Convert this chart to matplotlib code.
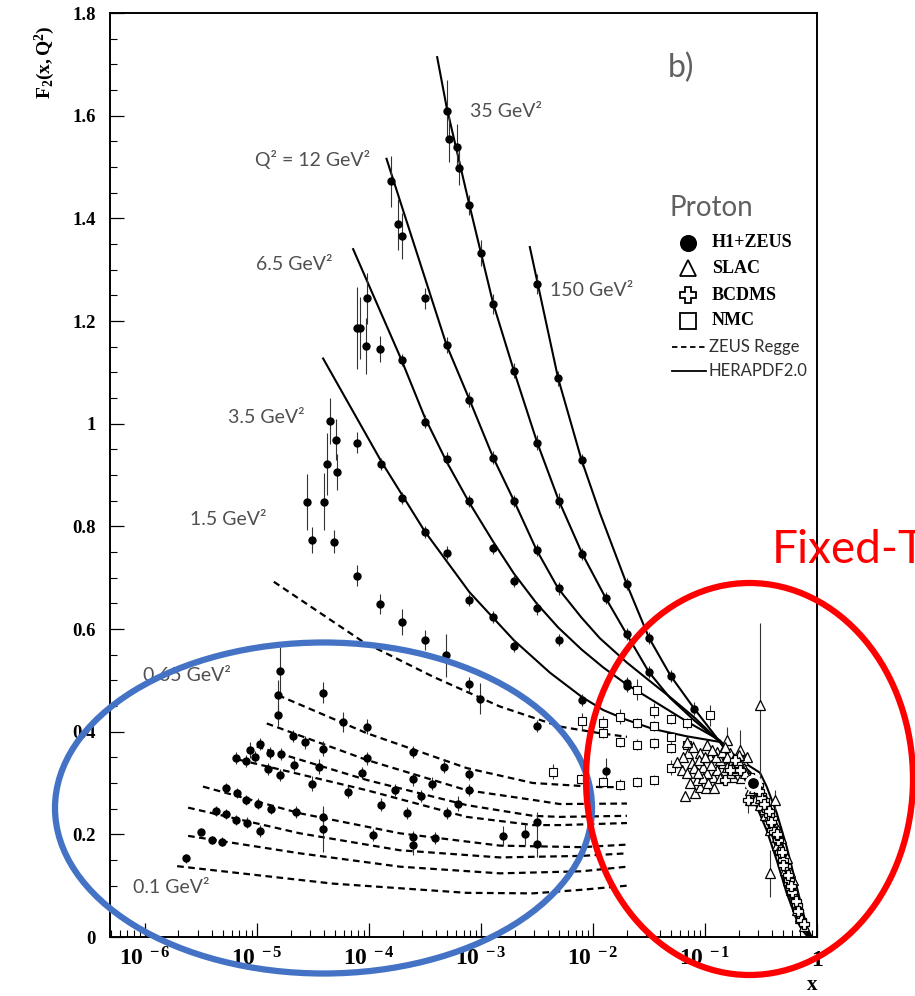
import numpy as np
import matplotlib
matplotlib.use("Agg")
import matplotlib.pyplot as plt
from matplotlib.patches import Ellipse
from matplotlib.ticker import FixedLocator, FuncFormatter, MultipleLocator

plt.rcParams['mathtext.fontset'] = 'custom'
plt.rcParams['mathtext.rm'] = 'Liberation Serif'
plt.rcParams['mathtext.bf'] = 'Liberation Serif:bold'
plt.rcParams['mathtext.it'] = 'Liberation Serif:italic'

# ---- data: columns are log10(x), F2, error ----
h1zeus = np.array([
    [-3.306, 1.609, 0.060], [-3.283, 1.555, 0.045], [-3.217, 1.538, 0.045], [-3.194, 1.499, 0.035],
    [-3.104, 1.426, 0.020], [-3.000, 1.333, 0.025], [-2.890, 1.233, 0.020], [-2.705, 1.103, 0.015],
    [-2.497, 0.963, 0.015], [-2.304, 0.850, 0.015], [-3.804, 1.472, 0.050], [-3.744, 1.388, 0.050],
    [-3.708, 1.366, 0.045], [-3.500, 1.244, 0.020], [-3.306, 1.153, 0.015], [-3.104, 1.047, 0.015],
    [-2.890, 0.934, 0.012], [-2.705, 0.850, 0.012], [-2.503, 1.272, 0.020], [-2.310, 1.088, 0.015],
    [-2.101, 0.929, 0.012], [-4.015, 1.244, 0.050], [-4.104, 1.187, 0.080], [-4.080, 1.186, 0.060],
    [-4.029, 1.151, 0.055], [-3.896, 1.146, 0.025], [-3.708, 1.124, 0.012], [-3.500, 1.004, 0.012],
    [-4.348, 1.005, 0.045], [-4.297, 0.969, 0.040], [-4.104, 0.963, 0.020], [-3.306, 0.932, 0.012],
    [-3.887, 0.921, 0.012], [-4.372, 0.921, 0.060], [-4.280, 0.906, 0.035], [-3.708, 0.855, 0.012],
    [-3.104, 0.849, 0.012], [-4.551, 0.847, 0.055], [-4.402, 0.848, 0.055], [-3.500, 0.789, 0.012],
    [-4.506, 0.773, 0.025], [-4.313, 0.770, 0.022], [-2.890, 0.758, 0.012], [-2.497, 0.754, 0.012],
    [-3.306, 0.749, 0.012], [-2.096, 0.746, 0.012], [-4.104, 0.704, 0.020], [-2.705, 0.694, 0.012],
    [-2.304, 0.679, 0.012], [-3.104, 0.657, 0.012], [-2.497, 0.640, 0.012], [-3.896, 0.649, 0.020],
    [-2.890, 0.623, 0.012], [-3.708, 0.614, 0.025], [-2.304, 0.579, 0.012], [-3.500, 0.579, 0.020],
    [-2.705, 0.567, 0.012], [-3.313, 0.549, 0.042], [-4.795, 0.519, 0.045], [-4.810, 0.471, 0.030],
    [-4.810, 0.432, 0.020], [-4.413, 0.476, 0.020], [-4.229, 0.419, 0.020], [-4.012, 0.410, 0.015],
    [-3.604, 0.361, 0.012], [-3.328, 0.332, 0.012], [-3.104, 0.318, 0.012], [-3.104, 0.492, 0.015],
    [-3.009, 0.464, 0.030], [-2.503, 0.411, 0.012], [-2.101, 0.462, 0.012],
    [-4.681, 0.392, 0.012], [-4.569, 0.379, 0.012], [-4.413, 0.367, 0.015], [-4.012, 0.348, 0.012],
    [-4.967, 0.376, 0.012], [-5.063, 0.364, 0.015], [-5.188, 0.349, 0.012], [-5.092, 0.343, 0.012],
    [-5.012, 0.351, 0.012], [-4.884, 0.358, 0.012], [-4.780, 0.356, 0.012], [-4.904, 0.327, 0.012],
    [-4.795, 0.316, 0.012], [-4.667, 0.336, 0.012], [-4.444, 0.332, 0.015], [-4.506, 0.299, 0.015],
    [-4.190, 0.283, 0.012], [-4.063, 0.320, 0.012], [-3.768, 0.286, 0.012], [-3.604, 0.307, 0.012],
    [-3.440, 0.299, 0.012], [-3.536, 0.275, 0.012], [-3.104, 0.286, 0.012], [-3.208, 0.260, 0.015],
    [-3.893, 0.258, 0.012], [-3.663, 0.241, 0.012], [-3.306, 0.241, 0.012], [-5.271, 0.290, 0.010],
    [-5.176, 0.280, 0.010], [-5.092, 0.267, 0.010], [-4.985, 0.260, 0.010], [-4.869, 0.249, 0.010],
    [-4.646, 0.243, 0.012], [-4.413, 0.234, 0.015], [-5.366, 0.245, 0.010], [-5.271, 0.239, 0.010],
    [-5.188, 0.228, 0.010], [-5.083, 0.223, 0.010], [-4.967, 0.207, 0.012], [-4.413, 0.210, 0.045],
    [-3.967, 0.199, 0.012], [-3.604, 0.194, 0.012], [-3.604, 0.179, 0.020], [-3.411, 0.193, 0.012],
    [-2.806, 0.197, 0.020], [-2.607, 0.200, 0.020], [-2.503, 0.224, 0.020], [-2.503, 0.181, 0.025],
    [-5.494, 0.205, 0.008], [-5.396, 0.189, 0.008], [-5.310, 0.186, 0.008], [-5.628, 0.153, 0.008],
    [-1.699, 0.688, 0.012], [-1.887, 0.660, 0.012], [-1.699, 0.590, 0.012], [-1.500, 0.583, 0.012],
    [-1.500, 0.516, 0.012], [-1.304, 0.508, 0.012], [-1.699, 0.494, 0.012], [-1.699, 0.489, 0.012],
    [-1.096, 0.445, 0.012], [-1.887, 0.323, 0.025],
])

nmc = np.array([
    [-2.101, 0.421, 0.015], [-2.354, 0.322, 0.015], [-2.110, 0.308, 0.010], [-1.604, 0.482, 0.020],
    [-0.955, 0.432, 0.020], [-1.908, 0.416, 0.015], [-1.759, 0.429, 0.015], [-1.604, 0.417, 0.010],
    [-1.453, 0.441, 0.015], [-1.453, 0.411, 0.010], [-1.304, 0.424, 0.010], [-1.163, 0.416, 0.010],
    [-1.908, 0.398, 0.010], [-1.759, 0.380, 0.010], [-1.604, 0.375, 0.010], [-1.453, 0.377, 0.010],
    [-1.304, 0.390, 0.010], [-1.304, 0.369, 0.010], [-1.163, 0.374, 0.010], [-1.304, 0.330, 0.015],
    [-1.908, 0.302, 0.010], [-1.759, 0.297, 0.010], [-1.604, 0.302, 0.010], [-1.453, 0.306, 0.010],
])

slac = np.array([
    [-1.179, 0.275, 0.010], [-1.089, 0.281, 0.010], [-1.045, 0.293, 0.010], [-0.994, 0.291, 0.010],
    [-1.208, 0.325, 0.010], [-1.163, 0.319, 0.010], [-1.119, 0.338, 0.010], [-1.074, 0.306, 0.010],
    [-1.015, 0.332, 0.010], [-0.955, 0.351, 0.010], [-0.926, 0.312, 0.010], [-0.896, 0.325, 0.010],
    [-0.837, 0.338, 0.010], [-0.806, 0.384, 0.025], [-0.777, 0.358, 0.010], [-0.747, 0.312, 0.010],
    [-0.688, 0.364, 0.040], [-0.658, 0.345, 0.010], [-1.149, 0.358, 0.010], [-1.104, 0.371, 0.010],
    [-1.163, 0.380, 0.010], [-1.045, 0.358, 0.010], [-0.985, 0.374, 0.010], [-0.896, 0.361, 0.010],
    [-0.866, 0.345, 0.010], [-0.985, 0.319, 0.010], [-0.806, 0.332, 0.010], [-0.717, 0.338, 0.010],
    [-0.628, 0.351, 0.010], [-0.598, 0.267, 0.010], [-0.375, 0.267, 0.020], [-0.509, 0.452, 0.160],
    [-0.420, 0.124, 0.046], [-0.600, 0.286, 0.010], [-0.550, 0.267, 0.010], [-0.505, 0.257, 0.010],
    [-0.460, 0.238, 0.010], [-0.420, 0.208, 0.010], [-0.390, 0.224, 0.010], [-0.355, 0.179, 0.010],
    [-0.330, 0.169, 0.010], [-0.300, 0.146, 0.010], [-0.285, 0.131, 0.010], [-0.255, 0.111, 0.010],
    [-0.230, 0.092, 0.010], [-0.200, 0.072, 0.010], [-0.175, 0.053, 0.010], [-0.150, 0.037, 0.010],
    [-0.120, 0.021, 0.010], [-0.515, 0.286, 0.010], [-0.445, 0.257, 0.010], [-0.375, 0.218, 0.010],
    [-0.320, 0.193, 0.010], [-0.265, 0.154, 0.010], [-0.215, 0.111, 0.010], [-0.530, 0.302, 0.010],
    [-0.480, 0.277, 0.010], [-0.345, 0.208, 0.010], [-0.240, 0.127, 0.010], [-0.195, 0.082, 0.010],
    [-1.100, 0.330, 0.010], [-1.050, 0.345, 0.010], [-1.000, 0.350, 0.010], [-0.950, 0.335, 0.010],
    [-0.900, 0.350, 0.010], [-0.850, 0.360, 0.010], [-0.800, 0.350, 0.010], [-0.750, 0.345, 0.010],
    [-0.700, 0.355, 0.010], [-0.650, 0.330, 0.010], [-1.130, 0.300, 0.010], [-1.020, 0.310, 0.010],
    [-0.970, 0.300, 0.010], [-0.920, 0.290, 0.010], [-0.870, 0.310, 0.010], [-0.780, 0.320, 0.010],
    [-0.720, 0.325, 0.010], [-0.680, 0.310, 0.010], [-1.200, 0.350, 0.010], [-1.250, 0.340, 0.010],
    [-0.600, 0.300, 0.010], [-0.560, 0.290, 0.010], [-0.510, 0.270, 0.010], [-0.470, 0.250, 0.010],
    [-0.430, 0.235, 0.010], [-0.400, 0.220, 0.010], [-0.360, 0.195, 0.010], [-0.330, 0.175, 0.010],
    [-0.295, 0.150, 0.010], [-0.265, 0.125, 0.010], [-0.240, 0.105, 0.010], [-0.210, 0.085, 0.010],
    [-0.180, 0.060, 0.010], [-0.150, 0.040, 0.010], [-1.060, 0.320, 0.010], [-0.940, 0.365, 0.010],
    [-0.820, 0.370, 0.010], [-0.760, 0.330, 0.010], [-0.700, 0.340, 0.012], [-0.640, 0.320, 0.010],
])

bcdms = np.array([
    [-0.580, 0.310, 0.008], [-0.560, 0.296, 0.008], [-0.500, 0.277, 0.008], [-0.470, 0.267, 0.008],
    [-0.450, 0.247, 0.008], [-0.400, 0.232, 0.008], [-0.400, 0.208, 0.008], [-0.350, 0.189, 0.008],
    [-0.330, 0.166, 0.008], [-0.280, 0.138, 0.008], [-0.260, 0.115, 0.008], [-0.220, 0.088, 0.008],
    [-0.180, 0.062, 0.008], [-0.140, 0.033, 0.008], [-0.616, 0.267, 0.025], [-0.777, 0.325, 0.008],
    [-0.732, 0.345, 0.008], [-0.821, 0.306, 0.008], [-0.688, 0.325, 0.008], [-0.530, 0.296, 0.008],
    [-0.500, 0.271, 0.008], [-0.430, 0.238, 0.008], [-0.360, 0.199, 0.008], [-0.300, 0.150, 0.008],
    [-0.250, 0.111, 0.008], [-0.580, 0.300, 0.008], [-0.520, 0.285, 0.008], [-0.470, 0.260, 0.008],
    [-0.430, 0.245, 0.008], [-0.410, 0.225, 0.008], [-0.380, 0.205, 0.008], [-0.360, 0.200, 0.008],
    [-0.310, 0.165, 0.008], [-0.300, 0.140, 0.008], [-0.260, 0.120, 0.008], [-0.230, 0.100, 0.008],
    [-0.190, 0.070, 0.008], [-0.170, 0.050, 0.008], [-0.120, 0.025, 0.008],
])

# HERAPDF2.0 curves, (log10 x, F2)
herapdf = {
    '150': [[-2.563, 1.344], [-2.310, 1.088], [-2.101, 0.929], [-1.938, 0.826], [-1.699, 0.688],
            [-1.500, 0.583], [-1.304, 0.508], [-1.096, 0.445], [-0.866, 0.380], [-0.732, 0.335],
            [-0.598, 0.293], [-0.538, 0.254], [-0.449, 0.208], [-0.360, 0.150], [-0.271, 0.086],
            [-0.181, 0.033], [-0.134, 0.014], [-0.080, 0.0]],
    '35': [[-3.390, 1.714], [-3.306, 1.617], [-3.098, 1.422], [-2.890, 1.234], [-2.705, 1.103],
           [-2.497, 0.963], [-2.304, 0.850], [-2.094, 0.746], [-1.885, 0.660], [-1.699, 0.590],
           [-1.500, 0.516], [-1.313, 0.466], [-1.096, 0.422], [-0.866, 0.380], [-0.700, 0.331],
           [-0.600, 0.303], [-0.500, 0.254], [-0.400, 0.198], [-0.300, 0.130], [-0.200, 0.062],
           [-0.100, 0.011], [-0.068, 0.0]],
    '12': [[-3.842, 1.516], [-3.708, 1.425], [-3.306, 1.153], [-3.104, 1.048], [-2.890, 0.934],
           [-2.705, 0.850], [-2.503, 0.754], [-2.310, 0.679], [-2.101, 0.622], [-1.938, 0.582],
           [-1.699, 0.535], [-1.500, 0.500], [-1.304, 0.466], [-1.096, 0.428], [-0.866, 0.380],
           [-0.700, 0.336], [-0.600, 0.313], [-0.500, 0.275], [-0.400, 0.221], [-0.300, 0.152],
           [-0.200, 0.080], [-0.100, 0.016], [-0.060, 0.0]],
    '6.5': [[-4.140, 1.340], [-3.708, 1.124], [-3.500, 1.012], [-3.306, 0.926], [-3.103, 0.846],
            [-2.890, 0.770], [-2.705, 0.708], [-2.503, 0.650], [-2.310, 0.603], [-2.101, 0.560],
            [-1.907, 0.525], [-1.699, 0.492], [-1.460, 0.460], [-1.163, 0.420], [-0.866, 0.383],
            [-0.700, 0.342], [-0.600, 0.322], [-0.500, 0.295], [-0.400, 0.243], [-0.300, 0.175],
            [-0.200, 0.097], [-0.100, 0.022], [-0.055, 0.0]],
    '3.5': [[-4.408, 1.127], [-3.885, 0.925], [-3.500, 0.790], [-3.103, 0.672], [-2.705, 0.578],
            [-2.384, 0.515], [-2.101, 0.468], [-1.907, 0.442], [-1.699, 0.423], [-1.460, 0.405],
            [-1.163, 0.391], [-0.866, 0.380], [-0.688, 0.345], [-0.509, 0.320], [-0.449, 0.293],
            [-0.360, 0.242], [-0.271, 0.176], [-0.181, 0.098], [-0.092, 0.020], [-0.047, 0.0]],
}

# ZEUS Regge curves, (log10 x, F2), from 1.5 GeV^2 down to 0.1 GeV^2
regge = [
    [[-4.848, 0.692], [-4.051, 0.575], [-3.426, 0.507], [-2.830, 0.449], [-2.295, 0.410],
     [-1.938, 0.397], [-1.696, 0.390]],
    [[-4.810, 0.471], [-4.018, 0.397], [-3.125, 0.329], [-2.536, 0.300], [-1.938, 0.292],
     [-1.696, 0.292]],
    [[-4.911, 0.416], [-4.020, 0.345], [-3.128, 0.286], [-2.533, 0.267], [-2.295, 0.259],
     [-1.696, 0.260]],
    [[-5.000, 0.371], [-4.020, 0.306], [-3.128, 0.257], [-2.533, 0.236], [-2.295, 0.234],
     [-1.696, 0.236]],
    [[-5.152, 0.345], [-4.020, 0.286], [-3.128, 0.234], [-2.533, 0.218], [-2.295, 0.218],
     [-1.696, 0.222]],
    [[-5.480, 0.293], [-4.616, 0.241], [-3.723, 0.202], [-2.830, 0.178], [-2.100, 0.175],
     [-1.696, 0.180]],
    [[-5.613, 0.252], [-4.616, 0.202], [-3.723, 0.169], [-2.830, 0.155], [-2.100, 0.158],
     [-1.696, 0.163]],
    [[-5.613, 0.197], [-4.616, 0.163], [-3.723, 0.137], [-2.830, 0.124], [-2.100, 0.128],
     [-1.696, 0.137]],
    [[-5.711, 0.138], [-4.321, 0.104], [-3.125, 0.086], [-2.536, 0.085], [-2.100, 0.092],
     [-1.696, 0.100]],
]

# Q^2 labels: text, axes-fraction position
q2_labels = [
    ('35 GeV²', 0.509, 0.893), ('Q² = 12 GeV²', 0.205, 0.841), ('6.5 GeV²', 0.2065, 0.728),
    ('150 GeV²', 0.6223, 0.700), ('3.5 GeV²', 0.167, 0.5617), ('1.5 GeV²', 0.113, 0.4513),
    ('0.65 GeV²', 0.0467, 0.2835), ('0.1 GeV²', 0.0325, 0.0541),
]

sans = ['Lato', 'DejaVu Sans']
grey = '#505050'

fig = plt.figure(figsize=(9.15, 9.96), dpi=100)
ax = fig.add_axes([110 / 915, 59 / 996, 707 / 915, 924 / 996])

for pts in regge:
    p = np.array(pts)
    ax.plot(10 ** p[:, 0], p[:, 1], color='black', lw=1.6, ls=(0, (3.0, 2.0)), zorder=2)
for q2, pts in herapdf.items():
    p = np.array(pts)
    ax.plot(10 ** p[:, 0], p[:, 1], color='black', lw=1.5, zorder=2)

eb = dict(fmt='none', ecolor='#333333', elinewidth=0.8, capsize=0, zorder=3)
for d in (nmc, slac, bcdms, h1zeus):
    ax.errorbar(10 ** d[:, 0], d[:, 1], yerr=d[:, 2], **eb)

ax.plot(10 ** nmc[:, 0], nmc[:, 1], 's', ms=5.5, mfc='white', mec='black', mew=0.8, zorder=4)
ax.plot(10 ** slac[:, 0], slac[:, 1], '^', ms=7, mfc='white', mec='black', mew=0.9, zorder=4)
ax.plot(10 ** bcdms[:, 0], bcdms[:, 1], 'P', ms=6.5, mfc='white', mec='black', mew=0.9, zorder=4)
ax.plot(10 ** h1zeus[:, 0], h1zeus[:, 1], 'o', ms=5, mfc='black', mec='black', zorder=5)
ax.plot([10 ** -0.573], [0.30], 'o', ms=10, mfc='black', mec='white', mew=2.2, zorder=6)

ax.set_xscale('log')
ax.set_xlim(10 ** -6.31, 1)
ax.set_ylim(0, 1.8)

decades = [10.0 ** k for k in range(-6, 1)]
ax.xaxis.set_major_locator(FixedLocator(decades))
minors = [m * 10.0 ** k for k in range(-7, 0) for m in range(2, 10)]
ax.xaxis.set_minor_locator(FixedLocator(minors))


def xfmt(v, pos):
    k = int(round(np.log10(v)))
    if k == 0:
        return r'$\mathbf{1}$'
    return r'$\mathbf{10^{\ %d}}$' % k


ax.xaxis.set_major_formatter(FuncFormatter(xfmt))
ax.yaxis.set_major_locator(MultipleLocator(0.2))
ax.yaxis.set_minor_locator(MultipleLocator(0.05))
ax.yaxis.set_major_formatter(FuncFormatter(lambda v, p: '0' if abs(v) < 1e-9 else '%g' % v))

ax.tick_params(which='both', direction='in', top=False, right=False)
ax.tick_params(which='major', length=10, width=0.9)
ax.tick_params(which='minor', length=5, width=0.8)
ax.tick_params(axis='x', which='major', labelsize=17, pad=7)
ax.tick_params(axis='y', which='major', labelsize=13.5, pad=10)
for lab in ax.get_yticklabels():
    lab.set_family('Liberation Serif')
    lab.set_fontweight('bold')
for s in ax.spines.values():
    s.set_linewidth(1.4)

fig.text(45 / 915, 1 - 62 / 996, r'$\mathbf{F_2(x,Q^2)}$', rotation=90, fontsize=14,
         ha='center', va='center')
fig.text(812 / 915, 1 - 985 / 996, 'x', family='Liberation Serif', fontweight='bold',
         fontsize=15, ha='center', va='center')

for txt, xa, ya in q2_labels:
    ax.text(xa, ya, txt, transform=ax.transAxes, color=grey, fontsize=14, va='center', family=sans)

ax.text(0.789, 0.9405, 'b)', transform=ax.transAxes, color='#606060', fontsize=23, va='center',
        family=sans)
ax.text(0.792, 0.789, 'Proton', transform=ax.transAxes, color='#606060', fontsize=20, va='center',
        family=sans)

# legend drawn by hand
lx0 = 0.8175
tx = 0.8515
rows = [('o', 'black', 'H1+ZEUS', 0.7511), ('^', 'white', 'SLAC', 0.7240),
        ('P', 'white', 'BCDMS', 0.6948), ('s', 'white', 'NMC', 0.6667)]
for m, fc, name, ya in rows:
    ax.plot([lx0], [ya], m, ms=11, mfc=fc, mec='black', mew=1.3, transform=ax.transAxes, clip_on=False)
    ax.text(tx, ya, name, transform=ax.transAxes, family='Liberation Serif', fontweight='bold',
            fontsize=13, va='center')
ax.plot([0.795, 0.843], [0.6385, 0.6385], color='black', lw=1.3, ls=(0, (3, 2)), transform=ax.transAxes)
ax.plot([0.795, 0.843], [0.6126, 0.6126], color='black', lw=1.3, transform=ax.transAxes)
ax.text(0.847, 0.6385, 'ZEUS Regge', transform=ax.transAxes, fontsize=12, va='center',
        color='#303030', family=sans)
ax.text(0.847, 0.6126, 'HERAPDF2.0', transform=ax.transAxes, fontsize=12, va='center',
        color='#303030', family=sans)

# highlighted regions
fig.add_artist(Ellipse((323.5 / 915, 1 - 808 / 996), 537 / 915, 331 / 996, transform=fig.transFigure,
                       fill=False, ec='#4472C4', lw=4.5, zorder=10))
fig.add_artist(Ellipse((749.5 / 915, 1 - 779 / 996), 327 / 915, 392 / 996, transform=fig.transFigure,
                       fill=False, ec='#FF0000', lw=4.5, zorder=10))
fig.text(772 / 915, 1 - 563 / 996, 'Fixed-Target', color='#FF0000', fontsize=33, va='baseline',
         family=sans)

fig.savefig('out.png', dpi=100)
